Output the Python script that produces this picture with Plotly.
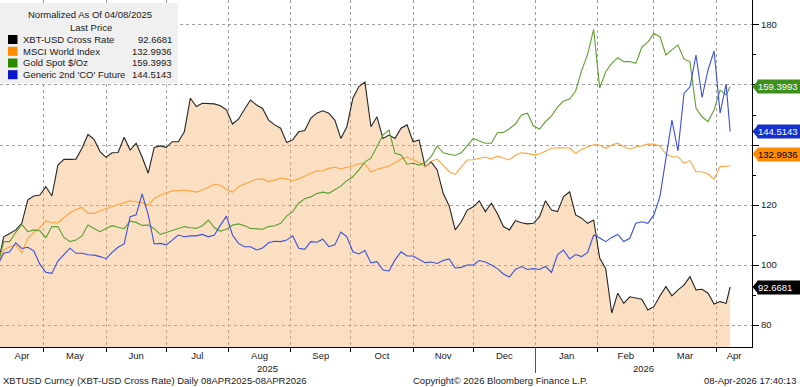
import plotly.graph_objects as go
import pandas as pd

# ---------------- data (normalized to 100 on 08-Apr-2025) ----------------
dates = list(pd.date_range("2025-04-08", "2026-04-06", freq="3D").strftime("%Y-%m-%d")) + ["2026-04-08"]

xbt = [100, 109.4, 110.5, 111.7, 113.9, 121.7, 123.0, 123.3, 126.1, 123.0,
       133.3, 135.2, 135.2, 135.3, 138.9, 143.5, 141.9, 137.8, 135.9, 137.4,
       137.5, 142.6, 138.3, 140.6, 135.9, 130.6, 139.2, 139.7, 139.2, 141.1,
       141.1, 144.4, 155.6, 152.8, 153.9, 153.9, 153.7, 153.1, 151.7, 147.0,
       148.6, 151.9, 155.0, 153.3, 152.2, 148.3, 146.7, 145.6, 140.8, 141.7,
       144.4, 144.8, 148.9, 150.6, 151.4, 150.6, 148.3, 142.2, 146.1, 155.6,
       159.5, 161.0, 146.1, 149.4, 142.2, 143.3, 142.2, 145.6, 146.7, 141.1,
       141.7, 132.8, 134.4, 131.7, 123.9, 119.7, 111.7, 114.4, 118.3, 119.4,
       121.4, 117.8, 120.6, 117.2, 112.8, 111.7, 114.8, 114.1, 113.7, 113.9,
       116.1, 121.4, 118.3, 117.8, 122.8, 124.4, 116.7, 115.6, 113.9, 115.0,
       102.3, 98.8, 84.0, 90.6, 87.2, 89.4, 88.9, 88.6, 85.0, 86.1,
       89.7, 92.8, 89.7, 91.7, 93.3, 96.1, 91.7, 91.9, 90.6, 87.0,
       87.8, 87.2, 92.6681]

msci = [100, 105.0, 106.1, 106.7, 104.1, 108.9, 110.8, 112.4, 114.8, 114.1,
        114.1, 115.9, 117.4, 118.5, 119.2, 117.2, 117.2, 118.1, 118.8, 119.4,
        120.3, 120.8, 121.4, 121.1, 120.8, 120.0, 122.2, 123.3, 124.1, 124.7,
        124.8, 125.0, 124.7, 124.3, 125.0, 125.9, 126.9, 126.6, 125.2, 124.3,
        126.1, 127.0, 127.8, 128.6, 128.7, 127.8, 128.3, 129.0, 128.7, 128.1,
        128.7, 129.7, 130.6, 131.3, 131.4, 132.2, 132.6, 132.1, 132.6, 133.0,
        133.8, 133.7, 131.0, 131.9, 132.4, 133.0, 134.1, 135.3, 136.0, 135.2,
        134.2, 132.8, 134.6, 135.3, 133.1, 131.1, 130.2, 132.8, 135.0, 135.1,
        135.5, 136.0, 135.3, 136.3, 135.7, 135.0, 136.6, 137.4, 137.2, 136.7,
        137.0, 137.9, 138.9, 139.1, 139.1, 139.0, 137.2, 138.6, 139.4, 140.1,
        140.0, 138.9, 140.0, 140.6, 139.4, 138.6, 139.4, 139.7, 140.3, 140.3,
        139.7, 137.0, 136.1, 136.1, 133.9, 134.8, 131.1, 131.1, 130.3, 128.6,
        132.8, 133.0, 132.9936]

gold = [100, 107.8, 107.8, 110.9, 113.5, 111.1, 111.7, 111.4, 109.1, 112.8,
        112.8, 109.2, 107.8, 108.3, 109.7, 113.3, 112.2, 111.1, 112.2, 113.1,
        112.6, 112.1, 114.6, 114.2, 113.2, 113.3, 112.1, 110.2, 110.8, 111.4,
        112.2, 112.8, 112.4, 112.2, 113.1, 115.0, 112.4, 111.3, 111.9, 113.3,
        113.7, 113.1, 112.2, 112.0, 111.9, 112.8, 113.1, 113.9, 116.3, 117.8,
        120.6, 122.1, 122.7, 123.8, 124.3, 123.9, 125.2, 126.3, 128.1, 129.4,
        131.7, 134.4, 135.6, 139.2, 143.3, 145.0, 137.2, 136.7, 133.6, 133.9,
        133.3, 134.1, 136.1, 139.7, 137.4, 136.9, 136.5, 137.4, 139.7, 142.2,
        141.3, 140.6, 140.6, 144.1, 144.2, 145.4, 147.0, 150.0, 150.6, 146.3,
        145.3, 147.8, 149.7, 152.6, 154.7, 155.3, 158.0, 164.8, 170.3, 178.5,
        159.0, 164.4, 167.2, 169.1, 167.8, 167.8, 167.2, 172.6, 174.3, 177.2,
        176.1, 170.0, 171.7, 173.3, 168.6, 167.8, 152.2, 149.4, 147.8, 151.7,
        158.3, 156.7, 159.3993]

brent = [100, 103.9, 104.4, 107.4, 105.5, 105.9, 104.7, 100.3, 97.6, 97.2,
         101.3, 103.3, 105.6, 103.9, 103.9, 103.4, 103.3, 102.8, 102.1, 104.2,
         105.9, 107.0, 116.1, 116.7, 123.7, 116.7, 107.0, 107.2, 106.7, 108.3,
         110.0, 109.4, 109.7, 109.7, 110.2, 109.4, 110.0, 113.3, 116.3, 110.0,
         107.2, 106.1, 106.1, 105.0, 105.7, 107.4, 107.9, 107.8, 108.3, 109.7,
         105.6, 105.2, 107.8, 107.6, 108.6, 106.1, 106.7, 111.0, 109.4, 104.4,
         103.7, 104.8, 100.7, 101.1, 98.3, 98.0, 101.7, 104.4, 103.0, 103.0,
         102.0, 100.8, 101.0, 100.5, 101.5, 102.0, 99.0, 99.2, 100.0, 100.0,
         101.5, 101.0, 100.0, 98.8, 97.0, 96.0, 98.5, 99.5, 98.5, 98.8,
         98.5, 99.5, 97.5, 103.5, 105.0, 102.0, 103.5, 102.8, 104.2, 110.0,
         109.0, 107.8, 109.2, 110.2, 107.8, 108.9, 113.9, 114.4, 113.9, 116.7,
         122.8, 136.1, 148.3, 138.0, 157.2, 159.4, 170.0, 155.9, 165.0, 171.4,
         150.6, 160.3, 144.5143]

for s in (xbt, msci, gold, brent):
    assert len(s) == len(dates), (len(s), len(dates))

names = ["XBT-USD Cross Rate", "MSCI World Index", "Gold Spot $/Oz", "Generic 2nd 'CO' Future"]
last_text = ["92.6681", "132.9936", "159.3993", "144.5143"]
series = [xbt, msci, gold, brent]

month_labels = ["Apr", "May", "Jun", "Jul", "Aug", "Sep", "Oct", "Nov", "Dec",
                "Jan", "Feb", "Mar", "Apr"]
month_starts = ["2025-04-01", "2025-05-01", "2025-06-01", "2025-07-01", "2025-08-01",
                "2025-09-01", "2025-10-01", "2025-11-01", "2025-12-01", "2026-01-01",
                "2026-02-01", "2026-03-01", "2026-04-01", "2026-05-01"]
y_ticks = [80, 100, 120, 140, 160, 180]
year_labels = ["2025", "2026"]

title_text = "Normalized As Of 04/08/2025"
subtitle_text = "Last Price"
footer_left = "XBTUSD Curncy (XBT-USD Cross Rate) Daily 08APR2025-08APR2026"
footer_mid = "Copyright\u00a9 2026 Bloomberg Finance L.P."
footer_right = "08-Apr-2026 17:40:13"

# ---------------- styling ----------------
FONT = "Liberation Sans, Arial, sans-serif"
FS = 9.5
TXT = "#1a1a1a"
line_colors = ["#262626", "#FFA33F", "#5E9F2F", "#3B50D9"]
swatch_colors = ["#000000", "#FF8C00", "#2F8A00", "#0A16C8"]
tag_colors = ["#000000", "#FF8C00", "#3F8F1E", "#1530CC"]
tag_font_colors = ["white", "black", "white", "white"]
tag_nudge = [0, 4.0, 0, 0]          # label layout nudge (value units)
GRID = "#a0a0a0"
FILL = "rgba(246,176,104,0.40)"

PW, PH = 752.0, 347.0              # plot area in px


def px(x):
    return x / PW


def py(y):
    return (PH - y) / PH


x0 = pd.Timestamp("2025-04-09 03:30")
x1 = pd.Timestamp("2026-04-18 21:30")

fig = go.Figure()
fig.add_trace(go.Scatter(x=dates, y=xbt, mode="lines", fill="tozeroy", fillcolor=FILL,
                         line=dict(color=line_colors[0], width=1.1), hoverinfo="skip"))
for s, c in zip(series[1:], line_colors[1:]):
    fig.add_trace(go.Scatter(x=dates, y=s, mode="lines", line=dict(color=c, width=1.1),
                             hoverinfo="skip"))

ms = [pd.Timestamp(m) for m in month_starts]
label_pos = []
for i in range(len(month_labels)):
    a = max(ms[i], x0)
    b = min(ms[i + 1], x1)
    label_pos.append(a + (b - a) / 2)

# tag positions; axis labels hidden where a value tag sits on top of them
tag_y = [series[i][-1] + tag_nudge[i] for i in range(4)]
y_ticktext = ["" if any(abs(t - v) < 4 for v in tag_y) else str(t) for t in y_ticks]

fig.update_layout(
    width=800, height=387,
    margin=dict(l=0, r=48, t=0, b=40, autoexpand=False),
    plot_bgcolor="white", paper_bgcolor="white",
    showlegend=False,
    font=dict(family=FONT, size=FS, color=TXT),
)
fig.update_xaxes(
    type="date", range=[x0, x1], automargin=False,
    tickvals=label_pos, ticktext=month_labels, ticks="", showgrid=False,
    showline=True, linecolor="black", linewidth=1, zeroline=False,
    tickfont=dict(size=FS, color=TXT),
    minor=dict(dtick="M1", tick0="2025-05-01", ticks="outside", ticklen=4,
               tickcolor="black", showgrid=True, gridcolor=GRID,
               griddash="dot", gridwidth=1),
)
fig.update_yaxes(
    side="right", range=[72.67, 188.33], automargin=False,
    tickvals=y_ticks, ticktext=y_ticktext, ticks="outside", ticklen=6, tickcolor="black",
    showline=True, linecolor="black", linewidth=1, zeroline=False,
    showgrid=True, gridcolor=GRID, griddash="dot", gridwidth=1,
    tickfont=dict(size=FS, color=TXT),
    minor=dict(dtick=10, tick0=0, ticks="outside", ticklen=3, tickcolor="black",
               showgrid=False),
)

shapes = []
ann = []

# legend box
shapes.append(dict(type="rect", xref="paper", yref="paper", x0=0, x1=px(178),
                   y0=py(83), y1=py(3), fillcolor="#f0f0f0", line=dict(width=0),
                   layer="above"))
ann.append(dict(xref="paper", yref="paper", x=px(90), y=py(15), text=title_text,
                showarrow=False, xanchor="center", yanchor="middle",
                font=dict(size=FS, color=TXT)))
ann.append(dict(xref="paper", yref="paper", x=px(91), y=py(27), text=subtitle_text,
                showarrow=False, xanchor="center", yanchor="middle",
                font=dict(size=FS, color=TXT)))
row_y = [39.5, 51.3, 63.0, 74.7]
for i in range(4):
    yy = row_y[i]
    shapes.append(dict(type="rect", xref="paper", yref="paper", x0=px(8), x1=px(17.5),
                       y0=py(yy + 4.5), y1=py(yy - 4.5), fillcolor=swatch_colors[i],
                       line=dict(width=0), layer="above"))
    ann.append(dict(xref="paper", yref="paper", x=px(21), y=py(yy), text=names[i],
                    showarrow=False, xanchor="left", yanchor="middle",
                    font=dict(size=FS, color=TXT)))
    ann.append(dict(xref="paper", yref="paper", x=px(174), y=py(yy), text=last_text[i],
                    showarrow=False, xanchor="right", yanchor="middle",
                    font=dict(size=FS, color=TXT)))

# last-value tags on the right axis
for i in range(4):
    v = tag_y[i]
    shapes.append(dict(type="path", xref="paper", yref="y",
                       path=f"M {px(752.5)},{v} L {px(758)},{v + 2.2} L {px(758)},{v - 2.2} Z",
                       fillcolor=tag_colors[i], line=dict(width=0), layer="above"))
    ann.append(dict(xref="paper", yref="y", x=px(757.5), y=v, text=last_text[i],
                    showarrow=False, xanchor="left", yanchor="middle", align="left",
                    bgcolor=tag_colors[i], borderpad=0, width=42, height=13,
                    font=dict(size=FS, color=tag_font_colors[i])))

# year labels & separator
yr_bounds = [(x0, pd.Timestamp("2026-01-01")), (pd.Timestamp("2026-01-01"), x1)]
for lab, (a, b) in zip(year_labels, yr_bounds):
    ann.append(dict(xref="x", yref="paper", x=a + (b - a) / 2, y=py(368), text=lab,
                    showarrow=False, xanchor="center", yanchor="middle",
                    font=dict(size=FS, color=TXT)))
shapes.append(dict(type="line", xref="x", yref="paper", x0="2026-01-01", x1="2026-01-01",
                   y0=py(347), y1=py(373), line=dict(color="#555555", width=1)))

# footer
ann.append(dict(xref="paper", yref="paper", x=px(1), y=py(380), text=footer_left,
                showarrow=False, xanchor="left", yanchor="middle",
                font=dict(size=FS, color=TXT)))
ann.append(dict(xref="paper", yref="paper", x=px(411), y=py(380), text=footer_mid,
                showarrow=False, xanchor="left", yanchor="middle",
                font=dict(size=FS, color=TXT)))
ann.append(dict(xref="paper", yref="paper", x=px(798), y=py(380), text=footer_right,
                showarrow=False, xanchor="right", yanchor="middle",
                font=dict(size=FS, color=TXT)))

fig.update_layout(shapes=shapes, annotations=ann)
fig.write_html("out.html", config={"displayModeBar": False},
               post_script="document.body.style.margin='0';document.body.style.padding='0';")
